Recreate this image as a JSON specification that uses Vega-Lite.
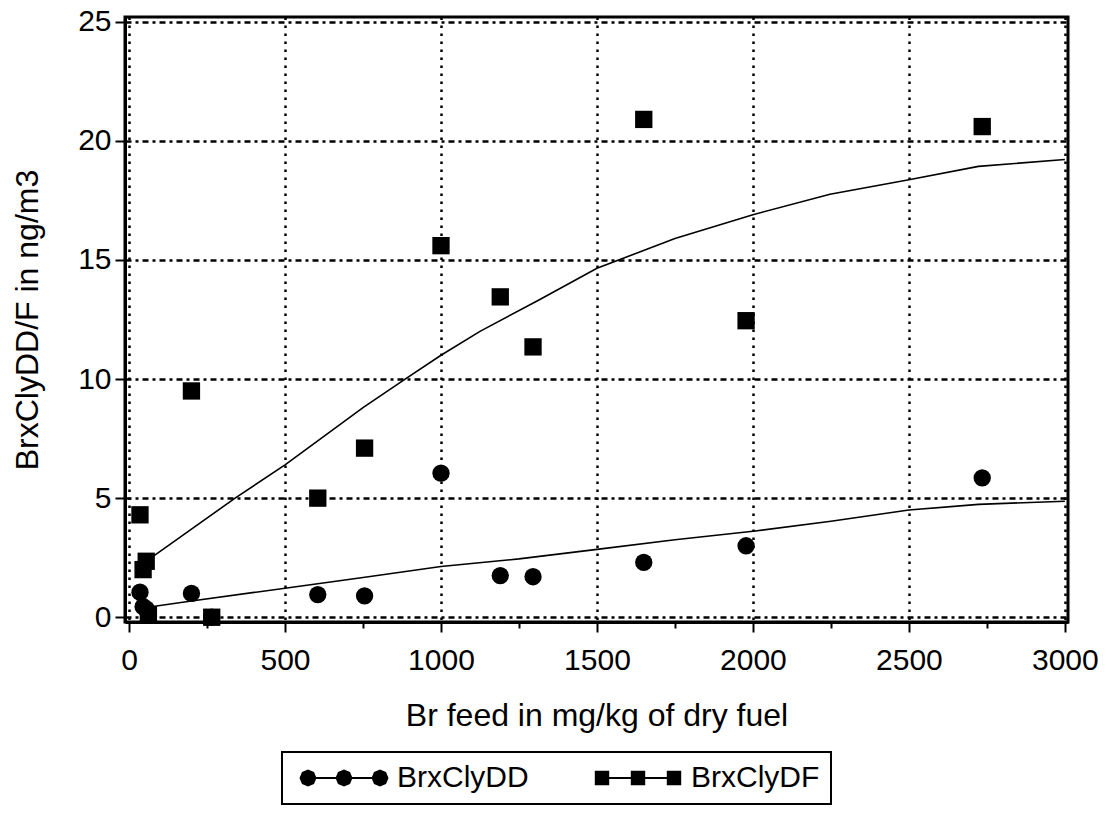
{
  "$schema": "https://vega.github.io/schema/vega-lite/v6.json",
  "width": 943,
  "height": 605,
  "autosize": {"type": "none"},
  "padding": {"left": 125, "top": 17, "right": 39, "bottom": 194},
  "background": "white",
  "config": {
    "view": {"stroke": "black", "strokeWidth": 3},
    "font": "Liberation Sans",
    "axis": {
      "domainColor": "black",
      "domainWidth": 3,
      "tickColor": "black",
      "tickWidth": 2,
      "labelFont": "Liberation Sans",
      "labelFontSize": 30,
      "labelColor": "black",
      "titleFont": "Liberation Sans",
      "titleFontSize": 32,
      "titleFontWeight": "normal",
      "titleColor": "black",
      "gridColor": "black",
      "gridWidth": 2.5,
      "gridOpacity": 1
    },
    "axisX": {"gridDash": [2.5, 5.5], "labelPadding": 13, "titlePadding": 25},
    "axisY": {"gridDash": [6, 4, 3, 4], "labelPadding": 4, "titlePadding": 33},
    "legend": {
      "orient": "none",
      "legendX": 157,
      "legendY": 735,
      "direction": "horizontal",
      "strokeColor": "black",
      "strokeWidth": 2,
      "padding": 11,
      "labelFont": "Liberation Sans",
      "labelFontSize": 30,
      "labelColor": "black",
      "symbolSize": 400,
      "symbolOpacity": 1,
      "labelOffset": 74,
      "columnPadding": 58
    }
  },
  "datasets": {
    "measured": [
      {"x": 35, "y": 1.05, "series": "BrxClyDD"},
      {"x": 45, "y": 0.45, "series": "BrxClyDD"},
      {"x": 55, "y": 0.35, "series": "BrxClyDD"},
      {"x": 62, "y": 0.1, "series": "BrxClyDD"},
      {"x": 200, "y": 1.0, "series": "BrxClyDD"},
      {"x": 265, "y": 0.0, "series": "BrxClyDD"},
      {"x": 605, "y": 0.95, "series": "BrxClyDD"},
      {"x": 755, "y": 0.9, "series": "BrxClyDD"},
      {"x": 1000, "y": 6.05, "series": "BrxClyDD"},
      {"x": 1190, "y": 1.75, "series": "BrxClyDD"},
      {"x": 1295, "y": 1.7, "series": "BrxClyDD"},
      {"x": 1650, "y": 2.3, "series": "BrxClyDD"},
      {"x": 1978, "y": 3.0, "series": "BrxClyDD"},
      {"x": 2735, "y": 5.85, "series": "BrxClyDD"},
      {"x": 35, "y": 4.3, "series": "BrxClyDF"},
      {"x": 45, "y": 2.0, "series": "BrxClyDF"},
      {"x": 55, "y": 2.35, "series": "BrxClyDF"},
      {"x": 62, "y": 0.1, "series": "BrxClyDF"},
      {"x": 200, "y": 9.5, "series": "BrxClyDF"},
      {"x": 265, "y": 0.0, "series": "BrxClyDF"},
      {"x": 605, "y": 5.0, "series": "BrxClyDF"},
      {"x": 755, "y": 7.1, "series": "BrxClyDF"},
      {"x": 1000, "y": 15.6, "series": "BrxClyDF"},
      {"x": 1190, "y": 13.45, "series": "BrxClyDF"},
      {"x": 1295, "y": 11.35, "series": "BrxClyDF"},
      {"x": 1650, "y": 20.9, "series": "BrxClyDF"},
      {"x": 1978, "y": 12.45, "series": "BrxClyDF"},
      {"x": 2735, "y": 20.6, "series": "BrxClyDF"}
    ],
    "fitted": [
      {"x": 60, "y": 0.42, "series": "BrxClyDD"},
      {"x": 200, "y": 0.68, "series": "BrxClyDD"},
      {"x": 500, "y": 1.22, "series": "BrxClyDD"},
      {"x": 750, "y": 1.67, "series": "BrxClyDD"},
      {"x": 1000, "y": 2.13, "series": "BrxClyDD"},
      {"x": 1250, "y": 2.45, "series": "BrxClyDD"},
      {"x": 1500, "y": 2.85, "series": "BrxClyDD"},
      {"x": 1750, "y": 3.25, "series": "BrxClyDD"},
      {"x": 2000, "y": 3.61, "series": "BrxClyDD"},
      {"x": 2250, "y": 4.03, "series": "BrxClyDD"},
      {"x": 2500, "y": 4.5, "series": "BrxClyDD"},
      {"x": 2723, "y": 4.74, "series": "BrxClyDD"},
      {"x": 3000, "y": 4.87, "series": "BrxClyDD"},
      {"x": 50, "y": 2.3, "series": "BrxClyDF"},
      {"x": 200, "y": 3.7, "series": "BrxClyDF"},
      {"x": 340, "y": 5.0, "series": "BrxClyDF"},
      {"x": 500, "y": 6.4, "series": "BrxClyDF"},
      {"x": 750, "y": 8.8, "series": "BrxClyDF"},
      {"x": 885, "y": 10.0, "series": "BrxClyDF"},
      {"x": 1000, "y": 11.0, "series": "BrxClyDF"},
      {"x": 1125, "y": 12.0, "series": "BrxClyDF"},
      {"x": 1311, "y": 13.3, "series": "BrxClyDF"},
      {"x": 1500, "y": 14.65, "series": "BrxClyDF"},
      {"x": 1750, "y": 15.9, "series": "BrxClyDF"},
      {"x": 2000, "y": 16.9, "series": "BrxClyDF"},
      {"x": 2247, "y": 17.76, "series": "BrxClyDF"},
      {"x": 2500, "y": 18.37, "series": "BrxClyDF"},
      {"x": 2723, "y": 18.93, "series": "BrxClyDF"},
      {"x": 3000, "y": 19.22, "series": "BrxClyDF"}
    ]
  },
  "encoding": {
    "x": {
      "field": "x",
      "type": "quantitative",
      "scale": {"domain": [-13, 3010], "nice": false, "zero": false},
      "axis": {
        "title": "Br feed in mg/kg of dry fuel",
        "values": [0, 250, 500, 750, 1000, 1250, 1500, 1750, 2000, 2250, 2500, 2750, 3000],
        "format": "d",
        "labelExpr": "datum.value % 500 === 0 ? datum.label : ''",
        "tickSize": {"condition": {"test": "datum.value % 500 !== 0", "value": 6}, "value": 10},
        "gridOpacity": {"condition": {"test": "datum.value % 500 !== 0", "value": 0}, "value": 1}
      }
    },
    "y": {
      "field": "y",
      "type": "quantitative",
      "scale": {"domain": [-0.2, 25.2], "nice": false, "zero": false},
      "axis": {
        "title": "BrxClyDD/F in ng/m3",
        "values": [0, 5, 10, 15, 20, 25],
        "format": "d",
        "tickSize": 10
      }
    }
  },
  "layer": [
    {
      "data": {"name": "fitted"},
      "mark": {"type": "line", "color": "black", "strokeWidth": 1.6, "clip": false},
      "encoding": {"detail": {"field": "series"}}
    },
    {
      "data": {"name": "measured"},
      "mark": {"type": "point", "filled": true, "opacity": 1, "color": "black", "size": 300, "clip": false},
      "encoding": {
        "shape": {
          "field": "series",
          "type": "nominal",
          "scale": {"domain": ["BrxClyDD", "BrxClyDF"], "range": ["circle", "square"]},
          "legend": null
        }
      }
    },
    {
      "data": {"name": "measured"},
      "mark": {"type": "point", "filled": true, "color": "black", "size": 0, "clip": true},
      "encoding": {
        "shape": {
          "field": "series",
          "type": "nominal",
          "scale": {
            "domain": ["BrxClyDD", "BrxClyDF"],
            "range": [
              "M0,-0.1H7.2V0.1H0Z M0.85,0L0.6,0.6L0,0.85L-0.6,0.6L-0.85,0L-0.6,-0.6L0,-0.85L0.6,-0.6Z M4.45,0L4.2,0.6L3.6,0.85L3,0.6L2.75,0L3,-0.6L3.6,-0.85L4.2,-0.6Z M8.05,0L7.8,0.6L7.2,0.85L6.6,0.6L6.35,0L6.6,-0.6L7.2,-0.85L7.8,-0.6Z",
              "M0,-0.1H7.2V0.1H0Z M-0.72,-0.72H0.72V0.72H-0.72Z M2.88,-0.72H4.32V0.72H2.88Z M6.48,-0.72H7.92V0.72H6.48Z"
            ]
          },
          "legend": {"title": null}
        }
      }
    }
  ],
  "resolve": {"scale": {"shape": "independent"}, "legend": {"shape": "independent"}}
}
